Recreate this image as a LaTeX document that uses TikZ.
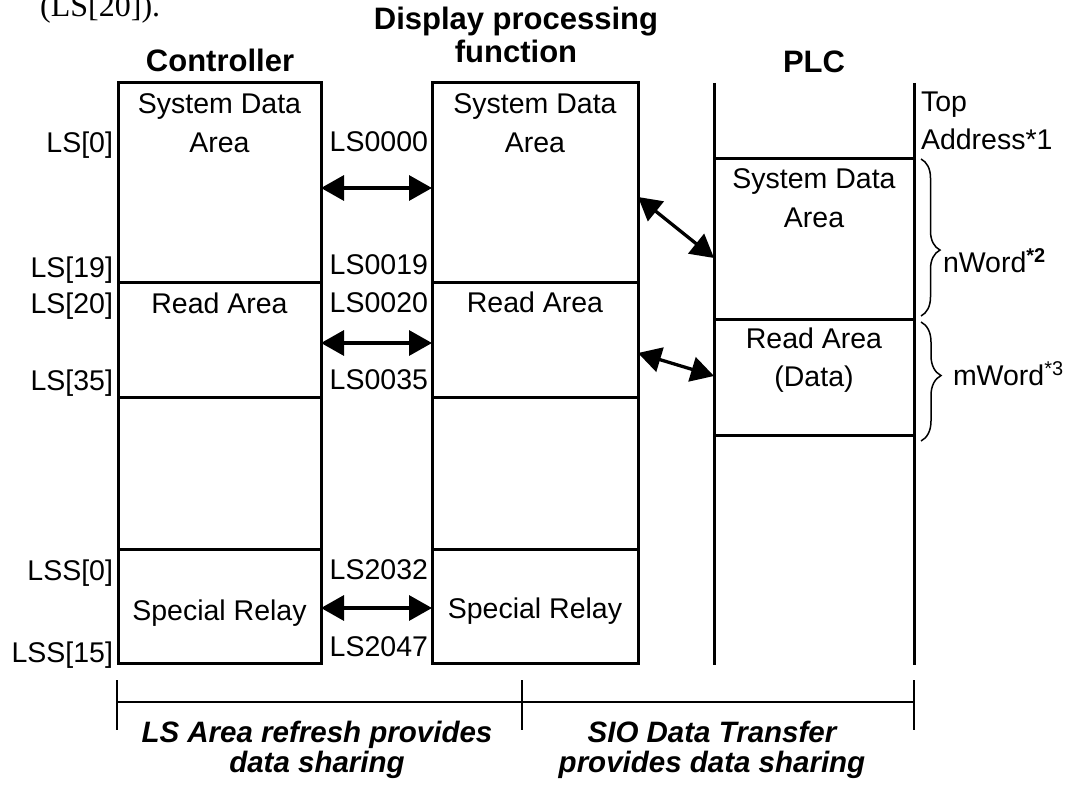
\documentclass[tikz,border=0pt]{standalone}
\usepackage{fontspec}
\setmainfont{Liberation Sans}
\newfontfamily\timesfont{Liberation Serif}
\usetikzlibrary{arrows.meta,decorations.pathreplacing}
\begin{document}
\begin{tikzpicture}[x=1pt,y=-1pt,
  area/.style={draw, line width=3pt, inner sep=0pt, outer sep=0pt},
  txt/.style={inner sep=0pt, outer sep=0pt, font=\fontsize{28.5}{38.5}\selectfont},
  hdr/.style={inner sep=0pt, outer sep=0pt, font=\fontsize{31}{33}\selectfont\bfseries},
  foot/.style={inner sep=0pt, outer sep=0pt, align=center, font=\fontsize{29.5}{30}\selectfont\bfseries\itshape},
  dbl/.style={line width=3.3pt, {Triangle[length=23pt,width=25pt]}-{Triangle[length=23pt,width=25pt]}},
  rulel/.style={line width=2pt},
  brc/.style={line width=1.5pt, decorate},
]
\useasboundingbox (0,0) rectangle (1077,789);

% previous text (cut at top)
\node[inner sep=0pt, anchor=base west, font=\timesfont\fontsize{32}{36}\selectfont] (prev) at (40,17) {(LS[20]).};

% headers
\node[hdr, anchor=base] (hc) at (220,72) {Controller};
\node[hdr, align=center] (hd) at (516,35.2) {Display processing\\function};
\node[hdr, anchor=base] (hp) at (814,73) {PLC};

% controller areas
\node[area, minimum width=203pt, minimum height=199pt] (csys) at (219.5,182.5) {};
\node[area, minimum width=203pt, minimum height=115pt] (cread) at (219.5,339.5) {};
\node[area, minimum width=203pt, minimum height=152pt] (cfree) at (219.5,473) {};
\node[area, minimum width=203pt, minimum height=114pt] (cspec) at (219.5,606) {};

% display areas
\node[area, minimum width=206pt, minimum height=199pt] (dsys) at (535,182.5) {};
\node[area, minimum width=206pt, minimum height=115pt] (dread) at (535,339.5) {};
\node[area, minimum width=206pt, minimum height=152pt] (dfree) at (535,473) {};
\node[area, minimum width=206pt, minimum height=114pt] (dspec) at (535,606) {};

% PLC
\coordinate (plcTL) at (714,83);
\coordinate (plcBL) at (714,665);
\coordinate (plcTR) at (914,83);
\coordinate (plcBR) at (914,665);
\draw[line width=3pt] (plcTL) -- (plcBL);
\draw[line width=3pt] (plcTR) -- (plcBR);
\node[area, minimum width=200pt, minimum height=160pt] (psys) at (814,239) {};
\node[area, minimum width=200pt, minimum height=116pt] (pread) at (814,377) {};

% texts in areas
\node[txt, align=center] (tcsys) at (219.5,123) {System Data\\Area};
\node[txt, anchor=base] (tcread) at (219.5,313) {Read Area};
\node[txt, anchor=base] (tcspec) at (219.5,620) {Special Relay};
\node[txt, align=center] (tdsys) at (535,123) {System Data\\Area};
\node[txt, anchor=base] (tdread) at (535,312) {Read Area};
\node[txt, anchor=base] (tdspec) at (535,618) {Special Relay};
\node[txt, align=center] (tpsys) at (814,198) {System Data\\Area};
\node[txt, align=center] (tpread) at (814,360) {Read Area\\(Data)};

% controller addresses
\node[txt, anchor=base east] (l0) at (113,153) {LS[0]};
\node[txt, anchor=base east] (l19) at (113,277) {LS[19]};
\node[txt, anchor=base east] (l20) at (113,313) {LS[20]};
\node[txt, anchor=base east] (l35) at (113,390) {LS[35]};
\node[txt, anchor=base east] (ls0) at (113,580) {LSS[0]};
\node[txt, anchor=base east] (ls15) at (113,662) {LSS[15]};

% display addresses
\node[txt, anchor=base east] (d0) at (428,152) {LS0000};
\node[txt, anchor=base east] (d19) at (428,274) {LS0019};
\node[txt, anchor=base east] (d20) at (428,312) {LS0020};
\node[txt, anchor=base east] (d35) at (428,389) {LS0035};
\node[txt, anchor=base east] (d2032) at (428,579) {LS2032};
\node[txt, anchor=base east] (d2047) at (428,656) {LS2047};

% PLC right labels
\node[txt, align=left, anchor=west] (top) at (921,121) {Top\\Address*1};
\coordinate (nb1) at (921,159);
\coordinate (nb2) at (921,316);
\draw[brc, decoration={brace, amplitude=19pt, aspect=0.58}] (nb1) -- (nb2);
\node[txt, anchor=base west] (nw) at (943,272) {nWord\textsuperscript{\textbf{*2}}};
\coordinate (mb1) at (921,322);
\coordinate (mb2) at (921,441);
\draw[brc, decoration={brace, amplitude=20pt, aspect=0.45}] (mb1) -- (mb2);
\node[txt, anchor=base west] (mw) at (953,385) {mWord\textsuperscript{*3}};

% arrows
\draw[dbl] (csys.east |- 0,188) -- (dsys.west |- 0,188);
\draw[dbl] (cread.east |- 0,343) -- (dread.west |- 0,343);
\draw[dbl] (cspec.east |- 0,608) -- (dspec.west |- 0,608);
\draw[dbl] (dsys.east |- 0,197) -- (psys.west |- 0,258);
\draw[dbl] (dread.east |- 0,353) -- (pread.west |- 0,376);

% bottom scale
\coordinate (t1a) at (117,680); \coordinate (t1b) at (117,730);
\coordinate (t2a) at (522,680); \coordinate (t2b) at (522,730);
\coordinate (t3a) at (914,680); \coordinate (t3b) at (914,730);
\coordinate (hl) at (117,702); \coordinate (hr) at (914,702);
\draw[rulel] (t1a) -- (t1b);
\draw[rulel] (t2a) -- (t2b);
\draw[rulel] (t3a) -- (t3b);
\draw[rulel] (hl) -- (hr);
\node[foot] (f1) at (317,749.5) {LS Area refresh provides\\data sharing};
\node[foot] (f2) at (712,749.5) {SIO Data Transfer\\provides data sharing};
\end{tikzpicture}
\end{document}
